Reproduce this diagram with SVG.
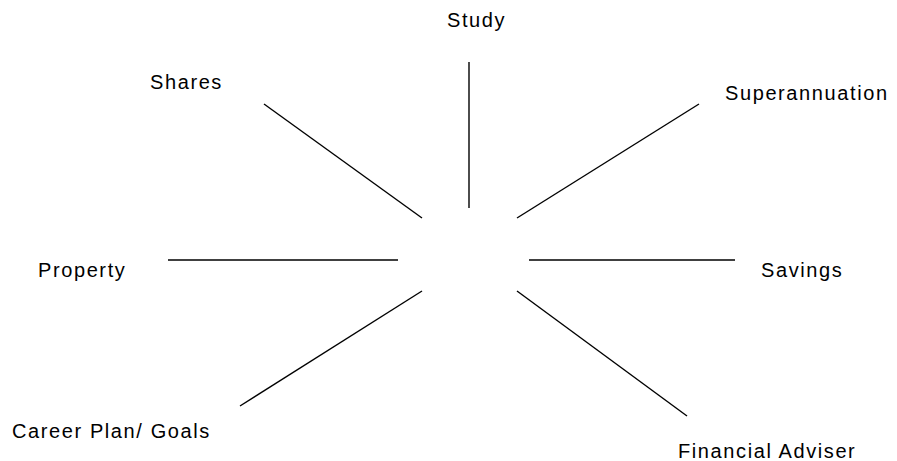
<svg xmlns="http://www.w3.org/2000/svg" width="897" height="461" viewBox="0 0 897 461">
  <style>
    .lbl { font-family: "Liberation Sans", Arial, sans-serif; font-size: 20px; letter-spacing: 1.6px; fill: #000; }
    .spoke { stroke: #000; stroke-width: 1.4; fill: none; }
  </style>
  <rect width="897" height="461" fill="#fff"/>
  <g id="connectors">
    <line class="spoke" x1="469" y1="62" x2="469" y2="208"/>
    <line class="spoke" x1="264" y1="104" x2="422" y2="218"/>
    <line class="spoke" x1="699" y1="104" x2="517" y2="218"/>
    <line class="spoke" x1="168" y1="260" x2="398" y2="260"/>
    <line class="spoke" x1="529" y1="260" x2="735" y2="260"/>
    <line class="spoke" x1="422" y1="291" x2="240" y2="406"/>
    <line class="spoke" x1="517" y1="291" x2="687" y2="416"/>
  </g>
  <g id="study"><text class="lbl" x="447" y="27">Study</text></g>
  <g id="shares"><text class="lbl" x="150" y="89">Shares</text></g>
  <g id="superannuation"><text class="lbl" x="725" y="100">Superannuation</text></g>
  <g id="property"><text class="lbl" x="38" y="277">Property</text></g>
  <g id="savings"><text class="lbl" x="761" y="277">Savings</text></g>
  <g id="career"><text class="lbl" x="12" y="438">Career Plan/ Goals</text></g>
  <g id="adviser"><text class="lbl" x="678" y="458">Financial Adviser</text></g>
</svg>
